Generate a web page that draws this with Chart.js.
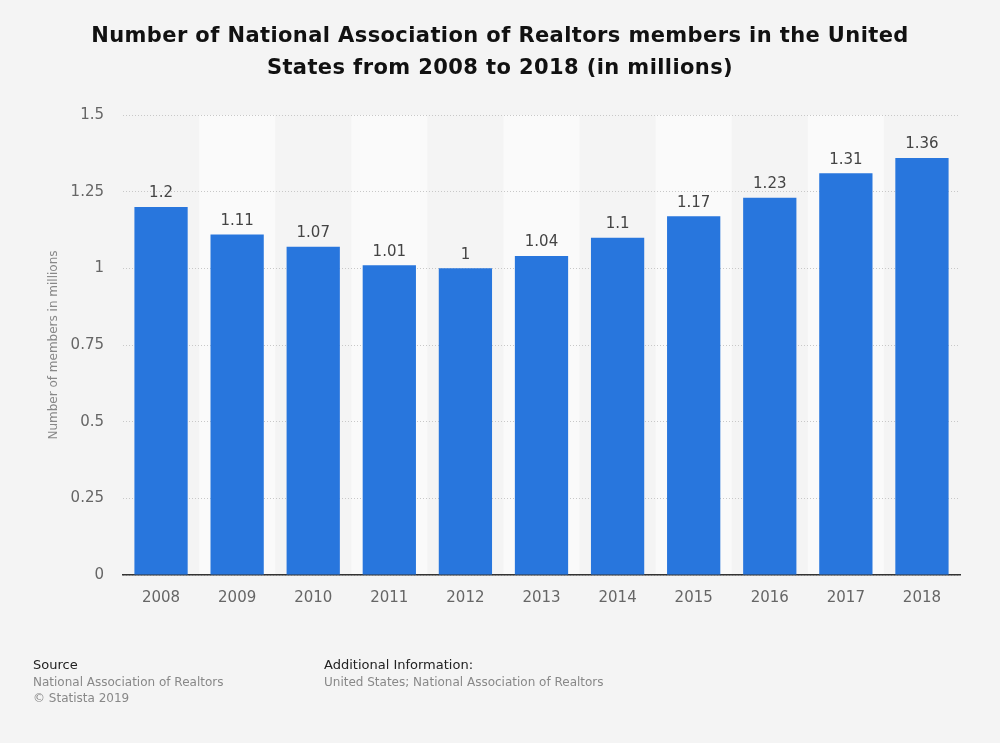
<!DOCTYPE html>
<html>
<head>
<meta charset="utf-8">
<script src="https://cdn.jsdelivr.net/npm/chart.js@4/dist/chart.umd.min.js"></script>
<style>
  html, body { margin:0; padding:0; background:#f4f4f4; }
  #wrap { position:relative; width:1000px; height:743px; font-family:"DejaVu Sans", sans-serif; }
  #title { position:absolute; left:0; top:19px; width:1000px; text-align:center; font-weight:bold; font-size:21px; letter-spacing:0.4px; line-height:32px; color:#111; }
  .foot { position:absolute; font-size:12px; line-height:16px; color:#888; }
  .foot b { font-weight:normal; color:#222; font-size:13px; display:block; margin-bottom:1px; }
</style>
</head>
<body>
<div id="wrap">
  <canvas id="chart" width="1000" height="743"></canvas>
  <div id="title">Number of National Association of Realtors members in the United<br>States from 2008 to 2018 (in millions)</div>
  <div class="foot" style="left:33px;top:657px;"><b>Source</b>National Association of Realtors<br>© Statista 2019</div>
  <div class="foot" style="left:324px;top:657px;"><b>Additional Information:</b>United States; National Association of Realtors</div>
</div>
<script>
// data
const years = ['2008','2009','2010','2011','2012','2013','2014','2015','2016','2017','2018'];
const members = [1.2, 1.11, 1.07, 1.01, 1, 1.04, 1.1, 1.17, 1.23, 1.31, 1.36];
const yTicks = [0, 0.25, 0.5, 0.75, 1, 1.25, 1.5];
const yTickLabels = ['0', '0.25', '0.5', '0.75', '1', '1.25', '1.5'];

// alternating column bands, drawn under grid and axis
const bands = {
  id: 'bands',
  beforeDraw(chart) {
    const { ctx, chartArea: a, scales: { x } } = chart;
    ctx.save();
    ctx.fillStyle = '#fafafa';
    const half = (x.getPixelForValue(1) - x.getPixelForValue(0)) / 2;
    years.forEach((y, i) => {
      if (i % 2 === 0) return;
      const c = x.getPixelForValue(i);
      ctx.fillRect(c - half, a.top, half * 2, a.bottom - a.top);
    });
    ctx.restore();
  }
};

// value labels above each bar
const valueLabels = {
  id: 'valueLabels',
  afterDatasetsDraw(chart) {
    const { ctx } = chart;
    ctx.save();
    ctx.font = '15px "DejaVu Sans"';
    ctx.fillStyle = '#444';
    ctx.textAlign = 'center';
    ctx.textBaseline = 'bottom';
    chart.getDatasetMeta(0).data.forEach((bar, i) => {
      ctx.fillText(String(members[i]), bar.x, bar.y - 6);
    });
    ctx.restore();
  }
};

new Chart(document.getElementById('chart'), {
  type: 'bar',
  data: {
    labels: years,
    datasets: [{ data: members, backgroundColor: '#2876dd', borderWidth: 0, barPercentage: 0.7, categoryPercentage: 1 }]
  },
  options: {
    responsive: false,
    animation: false,
    layout: { padding: { top: 115, left: 47, right: 40, bottom: 128 } },
    plugins: { legend: { display: false }, tooltip: { enabled: false } },
    scales: {
      x: {
        grid: { display: false },
        border: { color: '#333', width: 1.5 },
        ticks: { color: '#666', font: { family: 'DejaVu Sans', size: 15 }, padding: 6 },
        afterFit(s) { s.height = 40; }
      },
      y: {
        min: 0, max: 1.5,
        afterBuildTicks(s) { s.ticks = yTicks.map(v => ({ value: v })); },
        grid: { color: '#c8c8c8', drawTicks: false, lineWidth: 1 },
        border: { display: false, dash: [1, 2] },
        ticks: { color: '#666', font: { family: 'DejaVu Sans', size: 15 }, padding: 19,
                 callback: (v, i) => yTickLabels[i] },
        title: { display: true, text: 'Number of members in millions', color: '#888', font: { family: 'DejaVu Sans', size: 12 }, padding: 0 },
        afterFit(s) { s.width = 76; }
      }
    }
  },
  plugins: [bands, valueLabels]
});
</script>
</body>
</html>
